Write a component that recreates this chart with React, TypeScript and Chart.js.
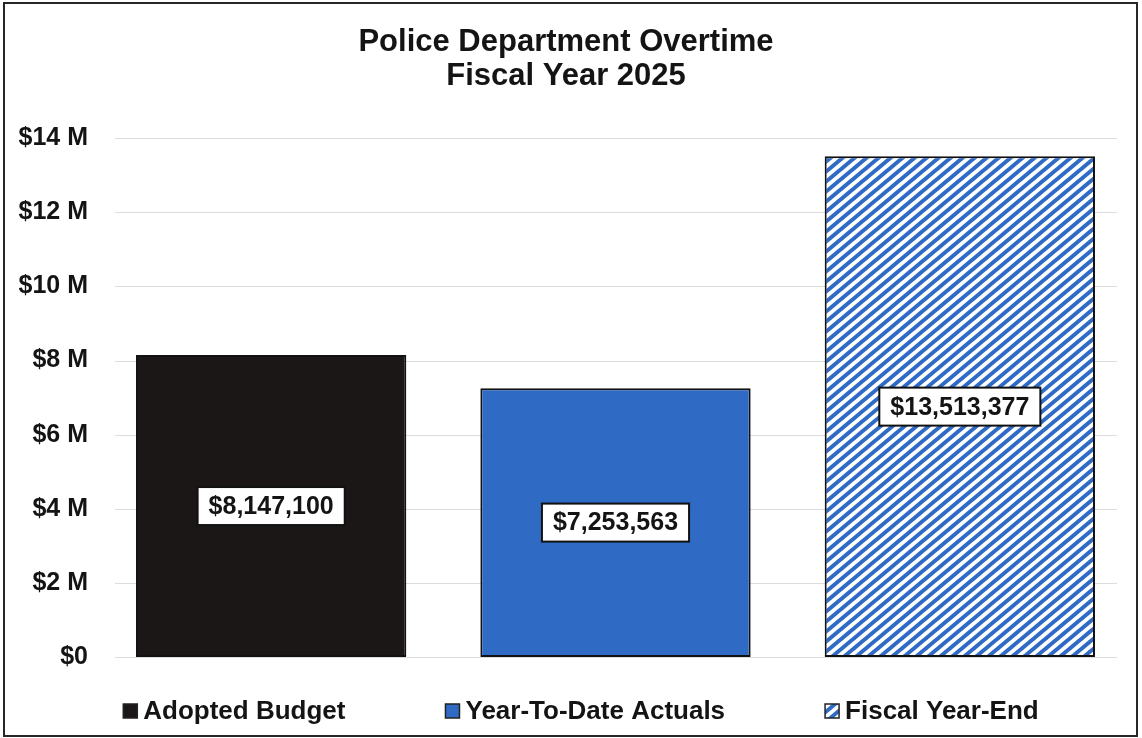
import React, { useEffect, useRef } from 'react';
import { Chart, registerables } from 'chart.js';

Chart.register(...registerables);

// ---- data ----
const TITLE_LINES = ['Police Department Overtime', 'Fiscal Year 2025'];
const CATEGORIES = ['Adopted Budget', 'Year-To-Date Actuals', 'Fiscal Year-End'];
const VALUES = [8147100, 7253563, 13513377];
const Y_MIN = 0;
const Y_MAX = 14000000;
const Y_STEP = 2000000;

// ---- style ----
const FONT = "'Liberation Sans', Arial, Helvetica, sans-serif";
const INK = '#141414';
const BLACK = '#1b1717';
const BLUE = '#2f6bc4';
const GRID = '#dcdcdc';

function makeHatch(): CanvasPattern | string {
  const a = 12;
  const b = 10;
  const c = document.createElement('canvas');
  c.width = a;
  c.height = b;
  const g = c.getContext('2d');
  if (!g) return BLUE;
  g.fillStyle = '#ffffff';
  g.fillRect(0, 0, a, b);
  g.strokeStyle = BLUE;
  g.lineWidth = 4;
  g.lineCap = 'square';
  // lines with slope -b/a passing through (0,b), (0,0), (a,b)
  g.beginPath();
  g.moveTo(-a, 2 * b);
  g.lineTo(2 * a, -b);
  g.moveTo(-a, b);
  g.lineTo(a, -b);
  g.moveTo(0, 2 * b);
  g.lineTo(2 * a, 0);
  g.stroke();
  const p = g.createPattern(c, 'repeat');
  return p || BLUE;
}

function fmtMoney(v: number): string {
  return '$' + Math.round(v).toLocaleString('en-US');
}

function fmtTick(v: number): string {
  return v === 0 ? '$0' : '$' + v / 1000000 + ' M';
}

export default function App() {
  const ref = useRef<HTMLCanvasElement | null>(null);

  useEffect(() => {
    const canvas = ref.current;
    if (!canvas) return;
    const hatch = makeHatch();
    const fills = [BLACK, BLUE, hatch];

    const framePlugin = {
      id: 'frame',
      beforeDraw(chart: any) {
        const ctx = chart.ctx;
        ctx.save();
        ctx.fillStyle = '#ffffff';
        ctx.fillRect(0, 0, chart.width, chart.height);
        ctx.restore();
      },
      afterDraw(chart: any) {
        const ctx = chart.ctx;
        ctx.save();
        ctx.strokeStyle = '#262626';
        ctx.lineWidth = 2;
        ctx.strokeRect(4, 3, chart.width - 9, chart.height - 5);
        ctx.restore();
      },
    };

    const gridPlugin = {
      id: 'softGrid',
      beforeDatasetsDraw(chart: any) {
        const ctx = chart.ctx;
        const y = chart.scales.y;
        const area = chart.chartArea;
        ctx.save();
        ctx.strokeStyle = GRID;
        ctx.lineWidth = 1;
        y.ticks.forEach((t: any) => {
          const py = Math.round(y.getPixelForValue(t.value)) + 0.5;
          ctx.beginPath();
          ctx.moveTo(area.left + 16, py);
          ctx.lineTo(area.right - 15, py);
          ctx.stroke();
        });
        ctx.restore();
      },
    };

    const labelPlugin = {
      id: 'boxLabels',
      afterDatasetsDraw(chart: any) {
        const ctx = chart.ctx;
        const meta = chart.getDatasetMeta(0);
        const ds = chart.data.datasets[0];
        ctx.save();
        ctx.font = `bold 25px ${FONT}`;
        ctx.textAlign = 'center';
        ctx.textBaseline = 'middle';
        meta.data.forEach((bar: any, i: number) => {
          const text = fmtMoney(ds.data[i]);
          const cx = bar.x;
          const cy = (bar.y + bar.base) / 2;
          const w = ctx.measureText(text).width + 22;
          const h = 38;
          ctx.fillStyle = '#ffffff';
          ctx.fillRect(cx - w / 2, cy - h / 2, w, h);
          ctx.strokeStyle = '#111111';
          ctx.lineWidth = 2;
          ctx.strokeRect(cx - w / 2, cy - h / 2, w, h);
          ctx.fillStyle = INK;
          ctx.fillText(text, cx, cy + 1);
        });
        ctx.restore();
      },
    };

    const legendPlugin = {
      id: 'bottomLegend',
      afterDraw(chart: any) {
        const ctx = chart.ctx;
        const labels: string[] = chart.data.labels;
        const box = 14;
        const gapText = 6;
        const gapItem = 100;
        const cy = 711;
        ctx.save();
        ctx.font = `bold 26px ${FONT}`;
        ctx.textBaseline = 'middle';
        ctx.textAlign = 'left';
        const widths = labels.map((l) => box + gapText + ctx.measureText(l).width);
        const total = widths.reduce((s, w) => s + w, 0) + gapItem * (labels.length - 1);
        let x = (chart.width - total) / 2 + 10;
        labels.forEach((l, i) => {
          ctx.fillStyle = fills[i] as any;
          ctx.fillRect(x, cy - box / 2, box, box);
          ctx.strokeStyle = '#222222';
          ctx.lineWidth = 1.5;
          ctx.strokeRect(x, cy - box / 2, box, box);
          ctx.fillStyle = INK;
          ctx.fillText(l, x + box + gapText, cy + 1);
          x += widths[i] + gapItem;
        });
        ctx.restore();
      },
    };

    const chart = new Chart(canvas, {
      type: 'bar',
      data: {
        labels: CATEGORIES,
        datasets: [
          {
            label: 'Police Department Overtime',
            data: VALUES,
            backgroundColor: fills as any,
            borderColor: '#111111',
            borderWidth: 2,
            borderSkipped: false,
            categoryPercentage: 1,
            barPercentage: 0.785,
          },
        ],
      },
      options: {
        animation: false,
        responsive: false,
        maintainAspectRatio: false,
        layout: { padding: { left: 0, right: 10, top: 0, bottom: 81 } },
        plugins: {
          legend: { display: false },
          tooltip: { enabled: false },
          title: {
            display: true,
            text: TITLE_LINES,
            color: INK,
            font: { family: FONT, size: 31, weight: 'bold', lineHeight: 1.1 },
            padding: { top: 25, bottom: 45 },
          },
        },
        scales: {
          x: { display: false },
          y: {
            min: Y_MIN,
            max: Y_MAX,
            grid: { display: false, drawTicks: false },
            border: { display: false },
            ticks: {
              stepSize: Y_STEP,
              padding: 11,
              color: INK,
              font: { family: FONT, size: 25, weight: 'bold' },
              callback: (v: any) => fmtTick(Number(v)),
            },
            afterFit: (scale: any) => {
              scale.width = 99;
            },
          },
        },
      },
      plugins: [framePlugin, gridPlugin, labelPlugin, legendPlugin],
    });

    return () => chart.destroy();
  }, []);

  return (
    <div style={{ position: 'fixed', left: 0, top: 0, width: 1142, height: 738, background: '#fff' }}>
      <canvas ref={ref} width={1142} height={738} style={{ display: 'block', width: 1142, height: 738 }} />
    </div>
  );
}
